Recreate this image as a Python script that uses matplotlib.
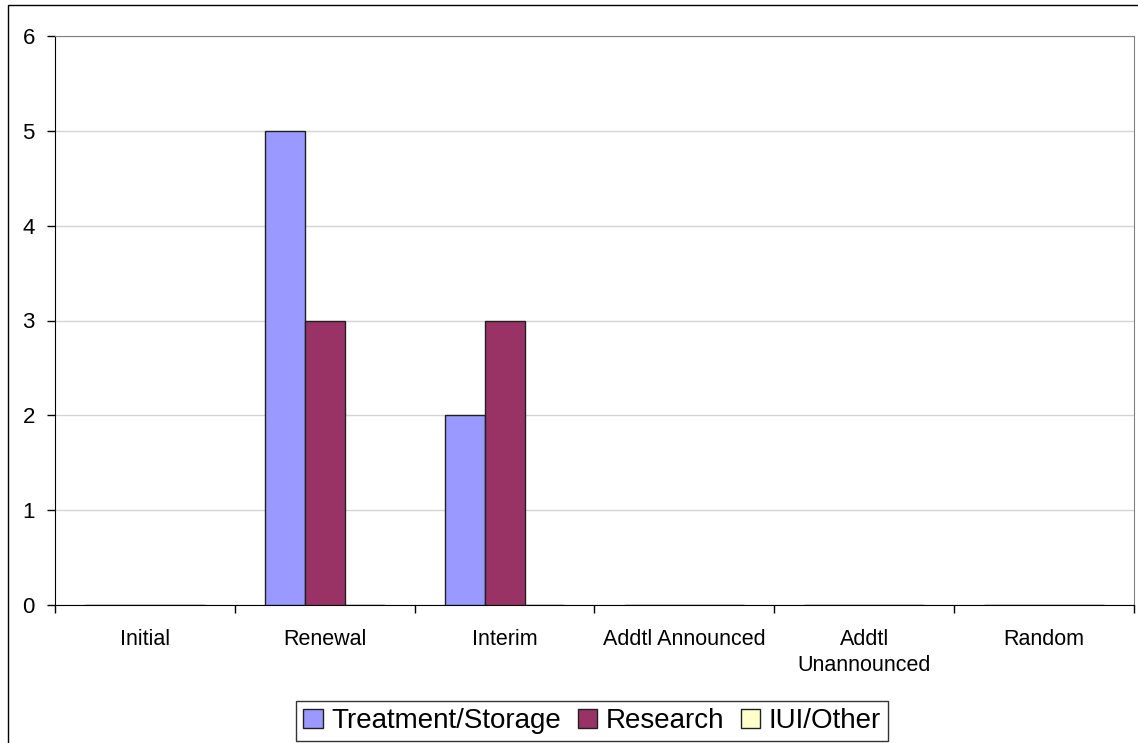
import numpy as np
import matplotlib.pyplot as plt
from matplotlib.patches import Rectangle

plt.rcParams['font.family'] = ['Liberation Sans', 'DejaVu Sans']

categories = ['Initial', 'Renewal', 'Interim', 'Addtl Announced', 'Addtl\nUnannounced', 'Random']
series_names = ['Treatment/Storage', 'Research', 'IUI/Other']
treatment = [0, 5, 2, 0, 0, 0]
research = [0, 3, 3, 0, 0, 0]
iui_other = [0, 0, 0, 0, 0, 0]
colors = ['#9999FF', '#993366', '#FFFFCC']

fig = plt.figure(figsize=(11.38, 7.43), dpi=100)
ax = fig.add_axes([55 / 1138, 1 - 605 / 743, (1134 - 55) / 1138, (605 - 36) / 743])

x = np.arange(len(categories))
w = 0.222
bars = []
for i, vals in enumerate([treatment, research, iui_other]):
    b = ax.bar(x + (i - 1) * w, vals, width=w, color=colors[i],
               edgecolor='#202020', linewidth=1, label=series_names[i], zorder=3)
    bars.append(b)

ax.set_xlim(-0.5, len(categories) - 0.5)
ax.set_ylim(0, 6)
ax.set_yticks(range(7))
ax.yaxis.grid(True, color='#d4d4d4', linewidth=1, zorder=0)

# tick marks at category boundaries, labels at centres
ax.set_xticks(np.arange(-0.5, len(categories), 1))
ax.set_xticklabels([])
ax.set_xticks(x, minor=True)
ax.set_xticklabels(categories, minor=True, fontsize=15.5, linespacing=1.35)
ax.tick_params(axis='x', which='major', direction='out', length=6, width=1, color='black')
ax.tick_params(axis='x', which='minor', length=0, pad=17)
ax.tick_params(axis='y', direction='out', length=6, width=1, labelsize=16, pad=8.5)

ax.spines['left'].set_color('black')
ax.spines['bottom'].set_color('black')
ax.spines['top'].set_color('#808080')
ax.spines['right'].set_color('#808080')

leg = fig.legend(handles=bars, labels=series_names, loc='center',
                 bbox_to_anchor=(592 / 1138, 1 - 721 / 743), ncol=3,
                 fontsize=20, frameon=True, fancybox=False, edgecolor='black',
                 handlelength=0.7, handleheight=0.7, handletextpad=0.3,
                 columnspacing=0.6, borderpad=0.25, borderaxespad=0)
leg.get_frame().set_linewidth(1)

# outer chart border
fig.patches.append(Rectangle((8 / 1138, -0.01), 1.02, 1 - 5 / 743 + 0.01,
                             transform=fig.transFigure, fill=False,
                             edgecolor='black', linewidth=1))

fig.savefig('out.png', dpi=100)
